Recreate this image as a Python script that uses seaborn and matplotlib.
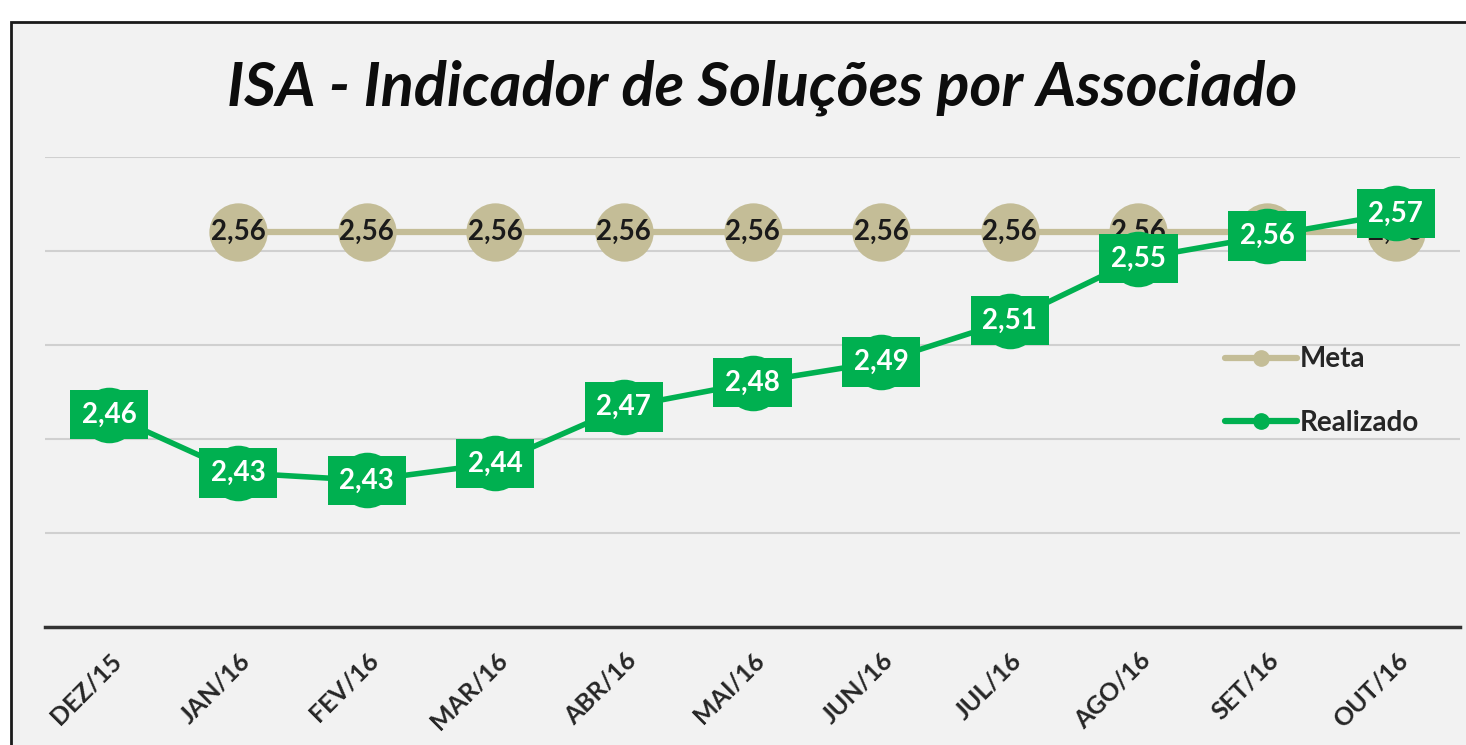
import numpy as np
import pandas as pd
import seaborn as sns
import matplotlib.pyplot as plt
from matplotlib.patches import Rectangle
from matplotlib.lines import Line2D

# Data
months = ["DEZ/15", "JAN/16", "FEV/16", "MAR/16", "ABR/16", "MAI/16",
          "JUN/16", "JUL/16", "AGO/16", "SET/16", "OUT/16"]
meta = [np.nan, 2.56, 2.56, 2.56, 2.56, 2.56, 2.56, 2.56, 2.56, 2.56, 2.56]
realizado = [2.463, 2.432, 2.428, 2.437, 2.467, 2.48, 2.491, 2.513, 2.546, 2.558, 2.57]

meta_color = "#C4BD97"
real_color = "#00B050"

sns.set_style("white")
plt.rcParams["font.family"] = ["Lato", "DejaVu Sans"]

df = pd.DataFrame({"pos": np.arange(len(months)), "Mes": months,
                   "Meta": meta, "Realizado": realizado})

fig = plt.figure(figsize=(14.66, 7.45), dpi=100)
fig.patch.set_facecolor("white")
# chart area frame (cut off at right and bottom like the screenshot)
fig.patches.append(Rectangle((11 / 1466, -0.1), 1.2, 1 - 22 / 745 + 0.1,
                             transform=fig.transFigure, fc="#F2F2F2",
                             ec="#1a1a1a", lw=2, zorder=-10))

ax = fig.add_axes([45 / 1466, 1 - 627 / 745, 1415 / 1466, 470 / 745])
ax.set_facecolor("none")

# Meta series
sns.lineplot(data=df, x="pos", y="Meta", ax=ax, color=meta_color, lw=4.5,
             marker="o", markersize=42, markeredgewidth=0, zorder=3)
for x, v in zip(df["pos"], df["Meta"]):
    if not np.isnan(v):
        ax.text(x, v, f"{v:.2f}".replace(".", ","), ha="center", va="center",
                fontsize=20, fontweight="bold", color="#1a1a1a", zorder=4)

# Realizado series
sns.lineplot(data=df, x="pos", y="Realizado", ax=ax, color=real_color, lw=4,
             marker="o", markersize=40, markeredgewidth=0, zorder=5)
for x, v in zip(df["pos"], df["Realizado"]):
    ax.text(x, v, f"{v:.2f}".replace(".", ","), ha="center", va="center",
            fontsize=20, fontweight="bold", color="white", zorder=6,
            bbox=dict(boxstyle="square,pad=0.42", fc=real_color, ec="none"))

ax.set_xlim(-0.5, len(months) - 0.5)
ax.set_ylim(2.35, 2.60)
ax.set_yticks([2.40, 2.45, 2.50, 2.55, 2.60])
ax.yaxis.grid(True, color="#D0D0D0", lw=1.5)
ax.set_axisbelow(True)
ax.tick_params(axis="y", left=False, labelleft=False)
ax.tick_params(axis="x", bottom=False, pad=12)
ax.set_xticks(df["pos"])
ax.set_xticklabels(months, rotation=45, ha="right", rotation_mode="anchor",
                   fontsize=18, fontweight="bold", color="#262626")
ax.set_xlabel("")
ax.set_ylabel("")
for side in ["top", "right", "left"]:
    ax.spines[side].set_visible(False)
ax.spines["bottom"].set_color("#333333")
ax.spines["bottom"].set_linewidth(2.5)

fig.text(762 / 1466, 1 - 88 / 745, "ISA - Indicador de Soluções por Associado",
         ha="center", va="center", fontsize=44, fontweight="bold",
         fontstyle="italic", color="#0d0d0d")

handles = [Line2D([], [], color=meta_color, lw=4.5, marker="o", markersize=11),
           Line2D([], [], color=real_color, lw=4.5, marker="o", markersize=11)]
leg = ax.legend(handles, ["Meta", "Realizado"], loc="center left",
                frameon=False, handlelength=2.6, handletextpad=0.08,
                labelspacing=1.35, borderpad=0, borderaxespad=0,
                prop={"size": 20, "weight": "bold"})
leg.set_bbox_to_anchor((1225 / 1466, 1 - 391 / 745), transform=fig.transFigure)

fig.savefig("out.png", dpi=100)
